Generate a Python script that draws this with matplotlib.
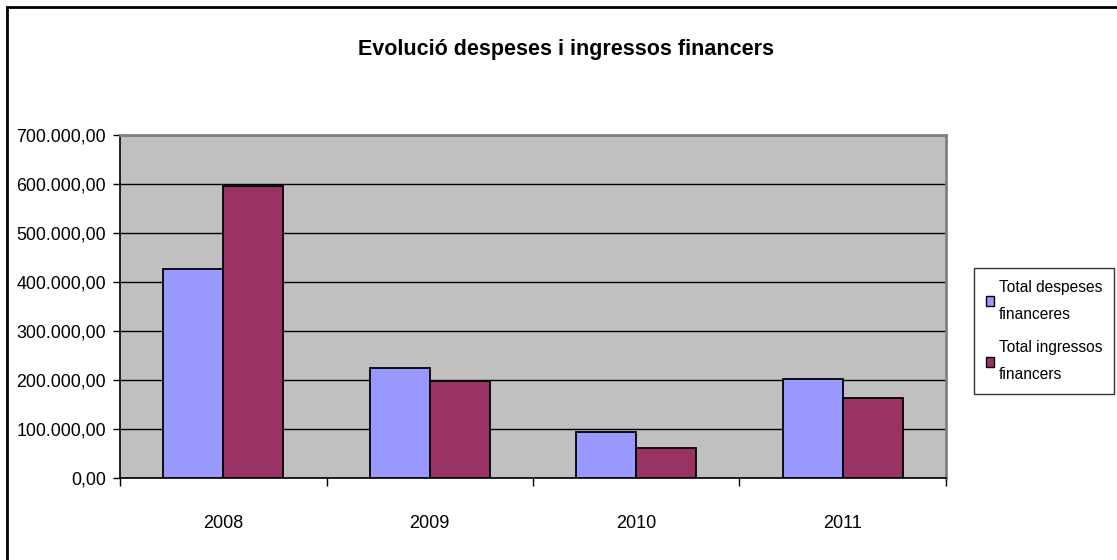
import matplotlib
matplotlib.use("Agg")
import matplotlib.pyplot as plt
from matplotlib.patches import Rectangle
from matplotlib.ticker import FuncFormatter, MultipleLocator, FixedLocator

# -----------------------------
# DATA
# -----------------------------
years = ["2008", "2009", "2010", "2011"]
despeses = [427000, 224500, 94500, 202000]
ingressos = [596000, 198500, 60500, 164000]
series_names = ["Total despeses\nfinanceres", "Total ingressos\nfinancers"]
title = "Evolució despeses i ingressos financers"

plt.rcParams["font.family"] = ["Liberation Sans", "DejaVu Sans"]

W, H = 1117, 560
fig = plt.figure(figsize=(W / 100, H / 100), dpi=100)

# outer chart frame (left and top visible, right/bottom cut off)
fig.patches.append(Rectangle((7 / W, -0.1), 1.2, (H - 7) / H + 0.1,
                             transform=fig.transFigure, fill=False,
                             edgecolor="black", linewidth=2))

ax = fig.add_axes([120 / W, 1 - 478 / H, (946 - 120) / W, (478 - 135) / H])
ax.set_facecolor("#C0C0C0")

x = list(range(len(years)))
bw = 0.29
ax.bar([i - bw / 2 for i in x], despeses, width=bw, color="#9999FF",
       edgecolor="black", linewidth=1.3, label=series_names[0], zorder=3)
ax.bar([i + bw / 2 for i in x], ingressos, width=bw, color="#993366",
       edgecolor="black", linewidth=1.3, label=series_names[1], zorder=3)

ax.set_xlim(-0.5, len(years) - 0.5)
ax.set_ylim(0, 700000)

# y axis
ax.yaxis.set_major_locator(MultipleLocator(100000))
ax.yaxis.set_major_formatter(FuncFormatter(
    lambda v, p: f"{v:,.2f}".replace(",", "X").replace(".", ",").replace("X", ".")))
ax.yaxis.grid(True, color="black", linewidth=1, zorder=1)
ax.set_axisbelow(True)
ax.tick_params(axis="y", direction="out", length=5, width=1, pad=5,
               labelsize=12.8, colors="black")

# x axis: labels at centres, ticks at boundaries
ax.set_xticks(x)
ax.set_xticklabels(years)
ax.tick_params(axis="x", which="major", length=0, pad=27, labelsize=13)
ax.xaxis.set_minor_locator(FixedLocator([i - 0.5 for i in range(len(years) + 1)]))
ax.tick_params(axis="x", which="minor", direction="out", length=6, width=1)

for side in ["top", "right"]:
    ax.spines[side].set_color("#808080")
    ax.spines[side].set_linewidth(2)
for side in ["left", "bottom"]:
    ax.spines[side].set_color("black")
    ax.spines[side].set_linewidth(1.2)

fig.text(566 / W, 1 - 50 / H, title, ha="center", va="center",
         fontsize=15.5, fontweight="bold")

leg = fig.legend(loc="upper left", bbox_to_anchor=(974 / W, 1 - 268 / H),
                 fontsize=11.2, frameon=True, fancybox=False,
                 edgecolor="black", handlelength=0.55, handleheight=0.55,
                 handletextpad=0.3, labelspacing=1.2, borderpad=0.75,
                 borderaxespad=0)
leg.get_frame().set_linewidth(1)
for t in leg.get_texts():
    t.set_linespacing(2.0)
for h in leg.legend_handles:
    h.set_linewidth(1)

fig.savefig("out.png", dpi=100)
